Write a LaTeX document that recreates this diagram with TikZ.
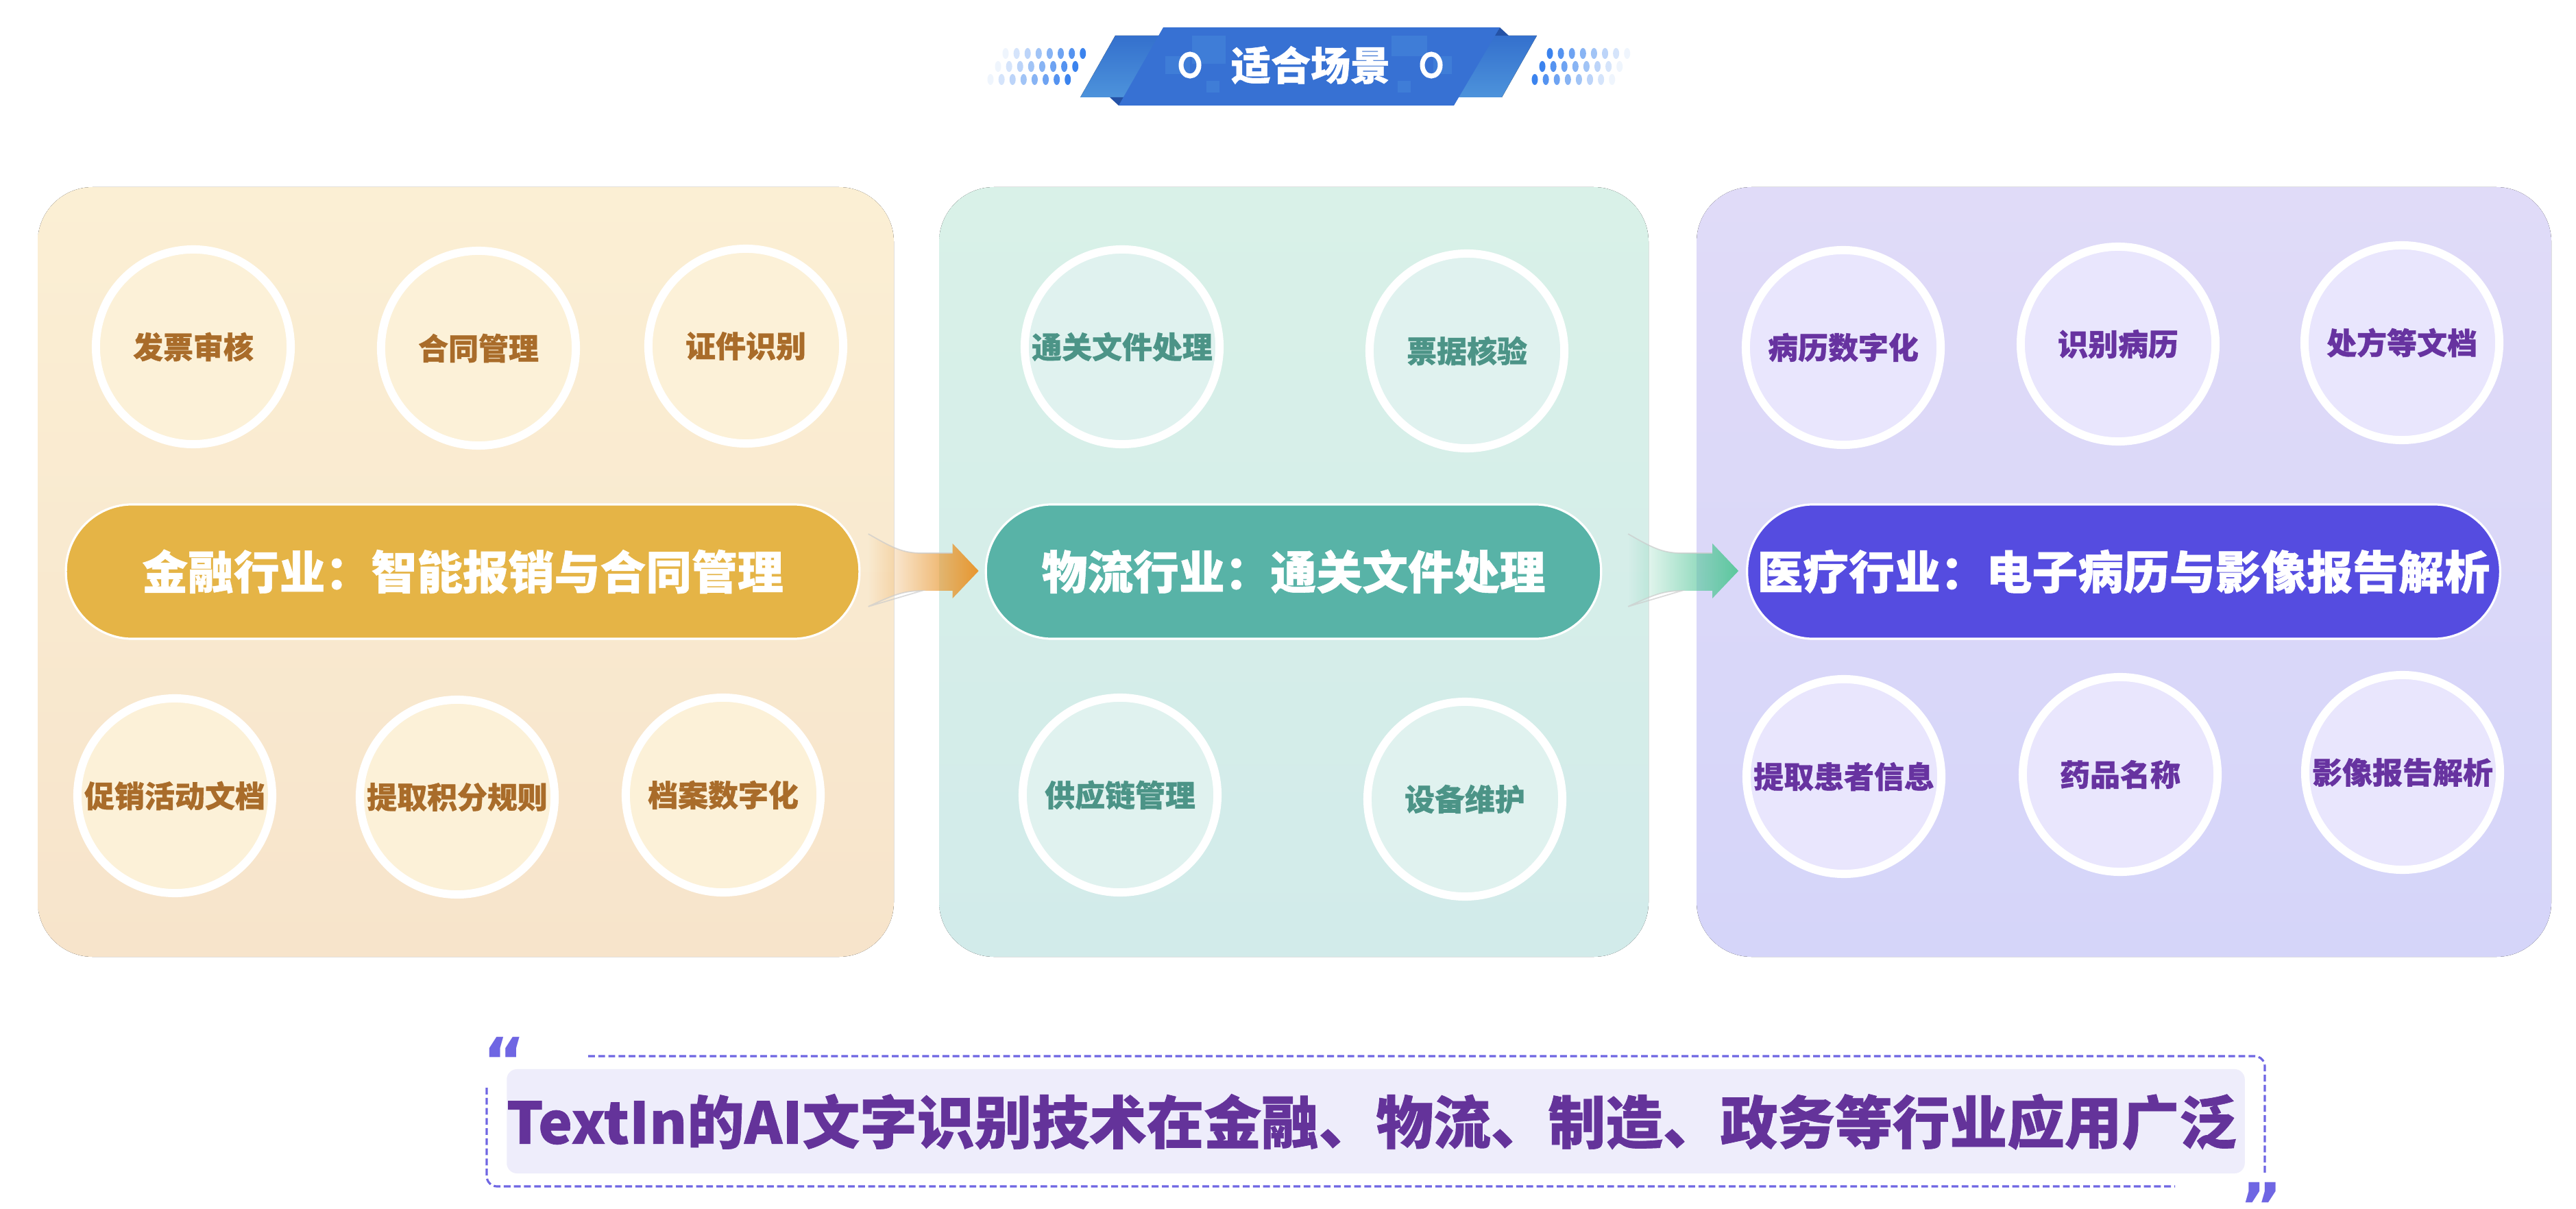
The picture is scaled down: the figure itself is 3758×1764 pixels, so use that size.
\documentclass[tikz,border=0pt]{standalone}
\usepackage{fontspec}
\setmainfont{Noto Sans CJK SC}[BoldFeatures={FakeBold=0.8}]
\newfontfamily\qfont{DejaVu Sans}
\usetikzlibrary{fadings}
\definecolor{panLt}{HTML}{FBEFD4}
\definecolor{panLb}{HTML}{F7E4CB}
\definecolor{panMt}{HTML}{D9F1E8}
\definecolor{panMb}{HTML}{D2EBEA}
\definecolor{panRt}{HTML}{E0DBF8}
\definecolor{panRb}{HTML}{D5D5F9}
\definecolor{circL}{HTML}{FCF1D8}
\definecolor{circM}{HTML}{E0F2EF}
\definecolor{circR}{HTML}{E9E6FD}
\definecolor{txtL}{HTML}{A96C2A}
\definecolor{txtM}{HTML}{4C9487}
\definecolor{txtR}{HTML}{6733A0}
\definecolor{pillL}{HTML}{E5B446}
\definecolor{pillM}{HTML}{58B3A7}
\definecolor{pillR}{HTML}{554CE0}
\definecolor{bmain}{HTML}{3771D3}
\definecolor{bwingt}{HTML}{3470CD}
\definecolor{bwingb}{HTML}{4D93DB}
\definecolor{bdark}{HTML}{2452A6}
\definecolor{bsq}{HTML}{4585DA}
\definecolor{dotblue}{HTML}{3B83EE}
\definecolor{qfill}{HTML}{EEEDFB}
\definecolor{qdash}{HTML}{6F66E3}
\definecolor{qtext}{HTML}{64339A}
\definecolor{arrO}{HTML}{E8962E}
\definecolor{arrG}{HTML}{5BC89D}
\tikzfading[name=arrowfade, left color=transparent!100, right color=transparent!0]
\begin{document}
\begin{tikzpicture}[x=0.01cm,y=-0.01cm,font=\bfseries,
  pcirc/.style={circle, draw=white, line width=3.4pt, minimum size=2.84cm, inner sep=0pt,
     font=\bfseries\fontsize{12.5}{14}\selectfont},
  circLs/.style={pcirc, fill=circL, text=txtL},
  circMs/.style={pcirc, fill=circM, text=txtM},
  circRs/.style={pcirc, fill=circR, text=txtR},
  pill/.style={draw=white, line width=0.9pt, rounded corners=0.97cm, minimum height=1.96cm,
     inner sep=0pt, text=white, font=\bfseries\fontsize{19}{22}\selectfont},
  panel/.style={rounded corners=0.8cm},
  flowarrow/.style={path fading=arrowfade},
  dashline/.style={draw=qdash, line width=0.9pt, dash pattern=on 2.8pt off 1.4pt, rounded corners=0.15cm},
  quotemark/.style={inner sep=0pt, text=qdash, font=\qfont\bfseries\fontsize{27}{27}\selectfont}
]
\useasboundingbox (0,0) rectangle (3758,1764);
\fill[white] (0,0) rectangle (3758,1764);

% ---------- banner ----------
\foreach \r in {0,1,2}{
  \foreach \i [evaluate=\i as \op using 0.08+0.92*\i/7] in {0,...,7}{
    \fill[dotblue, opacity=\op] ({1467-11*\r+16.1*\i},{78+19*\r}) ellipse [x radius=4.5, y radius=8];
  }
  \foreach \i [evaluate=\i as \op using 1-0.92*\i/7] in {0,...,7}{
    \fill[dotblue, opacity=\op] ({2261-11*\r+16.1*\i},{78+19*\r}) ellipse [x radius=4.5, y radius=8];
  }
}
\fill[top color=bwingt, bottom color=bwingb] (1627,52) -- (1705,52) -- (1670,142) -- (1576,142) -- cycle;
\fill[top color=bwingt, bottom color=bwingb] (2170,52) -- (2242,52) -- (2191,142) -- (2120,142) -- cycle;
\fill[bdark] (1619,142) -- (1642,142) -- (1632,154) -- cycle;
\fill[bdark] (2188,40) -- (2201,52) -- (2180,52) -- cycle;
\fill[bmain] (1697,40) -- (2188,40) -- (2121,154) -- (1632,154) -- cycle;
\fill[bsq, opacity=0.6] (1739,52) rectangle (1788,93);
\fill[bsq, opacity=0.6] (1700,82) rectangle (1736,108);
\fill[bsq, opacity=0.6] (1760,118) rectangle (1779,135);
\fill[bsq, opacity=0.6] (2030,52) rectangle (2082,82);
\fill[bsq, opacity=0.6] (2091,82) rectangle (2118,108);
\fill[bsq, opacity=0.6] (2039,118) rectangle (2058,135);
\draw[white, line width=2pt] (1736,95) ellipse [x radius=13, y radius=16];
\draw[white, line width=2pt] (2088,95) ellipse [x radius=13, y radius=16];
\node[text=white, font=\bfseries\fontsize{16.5}{18}\selectfont] (title) at (1912,95) {适合场景};

% ---------- panels ----------
\fill[panel, top color=panLt, bottom color=panLb] (55,273) rectangle (1304,1396);
\fill[panel, top color=panMt, bottom color=panMb] (1370,273) rectangle (2405,1396);
\fill[panel, top color=panRt, bottom color=panRb] (2475,273) rectangle (3722,1396);

% ---------- circles ----------
\node[circLs] (l1) at (282,506) {发票审核};
\node[circLs] (l2) at (698,508) {合同管理};
\node[circLs] (l3) at (1088,505) {证件识别};
\node[circLs] (l4) at (255,1161) {促销活动文档};
\node[circLs] (l5) at (667,1163) {提取积分规则};
\node[circLs] (l6) at (1055,1160) {档案数字化};

\node[circMs] (m1) at (1637,506) {通关文件处理};
\node[circMs] (m2) at (2140,512) {票据核验};
\node[circMs] (m3) at (1634,1160) {供应链管理};
\node[circMs] (m4) at (2137,1166) {设备维护};

\node[circRs] (r1) at (2689,507) {病历数字化};
\node[circRs] (r2) at (3090,502) {识别病历};
\node[circRs] (r3) at (3504,500) {处方等文档};
\node[circRs] (r4) at (2690,1133) {提取患者信息};
\node[circRs] (r5) at (3093,1130) {药品名称};
\node[circRs] (r6) at (3505,1127) {影像报告解析};

% ---------- pills ----------
\node[pill, fill=pillL, minimum width=11.57cm] (p1) at (675,834) {金融行业：智能报销与合同管理};
\node[pill, fill=pillM, minimum width=8.97cm] (p2) at (1887,834) {物流行业：通关文件处理};
\node[pill, fill=pillR, minimum width=10.98cm] (p3) at (3098,834) {医疗行业：电子病历与影像报告解析};

% ---------- flow arrows ----------
\begin{scope}[shift={(p2.west)}]
  \fill[arrO, flowarrow] (-170,-55) .. controls (-135,-35) and (-120,-27) .. (-92,-27) -- (-47,-27) -- (-47,-41)
     -- (-9,-1) -- (-47,39) -- (-47,28) -- (-92,28) .. controls (-120,28) and (-135,35) .. (-170,51) -- cycle;
  \draw[black!20, line width=0.5pt, opacity=0.7] (-170,-55) .. controls (-135,-35) and (-120,-27) .. (-92,-27) -- (-47,-27)
     (-92,28) .. controls (-120,28) and (-135,35) .. (-170,51) -- cycle;
\end{scope}
\begin{scope}[shift={(p3.west)}]
  \fill[arrG, flowarrow] (-172,-55) .. controls (-137,-35) and (-122,-27) .. (-94,-27) -- (-49,-27) -- (-49,-41)
     -- (-11,-1) -- (-49,39) -- (-49,28) -- (-94,28) .. controls (-122,28) and (-137,35) .. (-172,51) -- cycle;
  \draw[black!20, line width=0.5pt, opacity=0.7] (-172,-55) .. controls (-137,-35) and (-122,-27) .. (-94,-27) -- (-49,-27)
     (-94,28) .. controls (-122,28) and (-137,35) .. (-172,51) -- cycle;
\end{scope}

% ---------- bottom quote ----------
\node[fill=qfill, rounded corners=0.15cm, minimum width=25.34cm, minimum height=1.52cm, inner sep=0pt] (qbox) at (2007,1636) {};
\node[text=qtext, font=\bfseries\fontsize{23.8}{28}\selectfont] (qt) at (2001,1637) {TextIn的AI文字识别技术在金融、物流、制造、政务等行业应用广泛};
\coordinate (dA) at (858,1541);
\coordinate (dB) at (3304,1541);
\coordinate (dC) at (3304,1713);
\coordinate (dD) at (710,1587);
\coordinate (dE) at (710,1731);
\coordinate (dF) at (3173,1731);
\draw[dashline] (dA) -- (dB) -- (dC);
\draw[dashline] (dD) -- (dE) -- (dF);
\node[quotemark, anchor=north west] (lq) at (704,1512) {\raisebox{-0.42em}[0.32em][0pt]{“}};
\node[quotemark, anchor=north west] (rq) at (3267,1724) {\raisebox{-0.42em}[0.32em][0pt]{”}};
\end{tikzpicture}
\end{document}
